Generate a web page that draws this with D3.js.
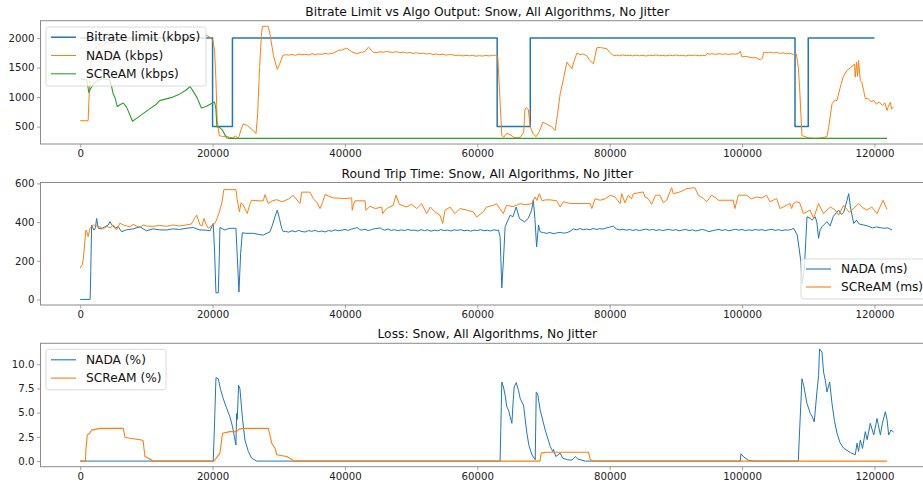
<!DOCTYPE html>
<html><head><meta charset="utf-8">
<script src="https://cdn.jsdelivr.net/npm/d3@7"></script>
<style>body{margin:0;background:#fff}svg{display:block}text{font-family:"DejaVu Sans",sans-serif}</style>
</head><body>
<svg id="c" width="923" height="482"></svg>
<script>
// ---------- DATA ----------
const xTicks = [0, 20000, 40000, 60000, 80000, 100000, 120000];
const yTicksBitrate = [500, 1000, 1500, 2000];
const yTicksRtt = [0, 200, 400, 600];
const yTicksLoss = [0, 2.5, 5, 7.5, 10];

const titles = [
  "Bitrate Limit vs Algo Output: Snow, All Algorithms, No Jitter",
  "Round Trip Time: Snow, All Algorithms, No Jitter",
  "Loss: Snow, All Algorithms, No Jitter"
];

// bitrate limit (step after)
const bitrateLimit = [[0,2000],[20000,500],[23000,2000],[63000,500],[68000,2000],[108000,500],[110000,2000],[120000,2000]];

const screamKbps = [[0,1310],[500,1300],[1000,1290],[1200,1150],[1300,1080],[1600,1150],[2000,1220],[2500,1270],[3000,1300],[3500,1310],[4000,1300],[4500,1290],[4800,1150],[5000,1050],[5260,990],[5500,880],[5600,840],[6000,870],[6500,900],[7000,830],[7500,700],[7900,590],[8500,640],[9500,720],[10500,800],[11500,880],[12000,940],[13000,970],[14000,1000],[15000,1050],[16000,1120],[16600,1180],[17000,1110],[17600,1000],[18000,900],[18300,815],[19000,840],[19500,870],[20000,900],[20300,915],[20500,800],[20650,500],[21000,490],[21500,440],[22100,310],[22500,300],[121900,300]];

const nadaKbps = [[0,600],[1200,600],[1300,900],[1500,1400],[1700,1700],[2000,1800],[2500,1850],[3000,1900],[3500,1870],[4000,1950],[5000,1920],[6000,1980],[7000,1950],[8000,2000],[9000,1960],[10000,2010],[11000,1950],[12000,1990],[13000,2020],[14000,1960],[15000,2000],[16000,1940],[17000,1990],[18000,2030],[18500,1980],[19000,2050],[19500,2020],[19800,1990],[20000,1980],[20300,1800],[20500,1300],[20700,600],[21000,350],[21500,330],[22000,340],[22500,320],[23000,310],[23500,340],[23800,310],[24000,330],[24300,450],[24640,546],[25200,520],[26000,450],[26560,380],[26800,700],[27100,1500],[27400,2100],[27570,2200],[28400,2200],[28700,2050],[29200,1700],[29780,1470],[30100,1550],[30590,1700],[31000,1720],[31500,1712],[32000,1722],[32500,1708],[33000,1730],[33500,1718],[34000,1726],[34500,1715],[35000,1735],[35500,1722],[36000,1732],[36500,1726],[37000,1740],[37500,1730],[38250,1745],[39000,1790],[39600,1800],[40270,1830],[41000,1770],[41780,1735],[42500,1760],[43000,1770],[43540,1847],[44300,1762],[44800,1755],[45300,1768],[45800,1760],[46300,1775],[46800,1762],[47300,1758],[47800,1770],[48300,1752],[48800,1763],[49300,1748],[49800,1756],[50300,1742],[50800,1750],[51300,1738],[51800,1745],[52300,1730],[52800,1738],[53300,1722],[53800,1730],[54300,1718],[54800,1728],[55300,1712],[55800,1722],[56300,1715],[56800,1705],[57300,1712],[57800,1698],[58300,1708],[58800,1700],[59300,1706],[59800,1694],[60300,1702],[60800,1696],[61300,1705],[61800,1698],[62300,1706],[62800,1710],[63100,1680],[63400,1000],[63700,350],[64000,320],[64460,387],[65000,360],[65500,320],[65970,309],[66500,320],[67000,400],[67200,800],[67400,818],[67700,790],[68000,500],[68400,380],[68890,330],[69300,400],[69900,574],[70500,540],[71200,500],[71760,433],[72100,700],[72520,1056],[73000,1300],[73530,1593],[74280,1480],[74600,1600],[75040,1745],[75500,1720],[76000,1730],[76550,1700],[77000,1620],[77550,1565],[77800,1700],[78060,1837],[78600,1840],[79570,1820],[80000,1760],[80570,1700],[81000,1712],[81500,1700],[82000,1715],[82500,1702],[83000,1710],[83500,1698],[84000,1712],[84500,1700],[85000,1708],[85500,1696],[86000,1710],[86500,1702],[87000,1715],[87500,1700],[88000,1708],[88500,1698],[89000,1712],[89500,1702],[90000,1714],[90500,1700],[91000,1708],[91500,1697],[92000,1711],[92500,1703],[93000,1713],[93500,1700],[94000,1708],[94500,1702],[94700,1740],[95000,1728],[95500,1735],[96000,1724],[96500,1736],[97000,1726],[97500,1733],[98000,1724],[98500,1732],[99000,1728],[99500,1740],[99730,1775],[99980,1680],[100500,1692],[101000,1680],[101500,1664],[102000,1672],[102750,1633],[103100,1660],[103260,1762],[103700,1755],[104200,1762],[104700,1748],[105200,1756],[105700,1742],[106200,1750],[106700,1736],[107200,1744],[107800,1720],[108200,1730],[108500,1500],[108690,1168],[109050,348],[109500,330],[110000,310],[111000,300],[112000,310],[112830,330],[113100,500],[113590,886],[114000,950],[114350,942],[114800,1150],[115300,1350],[115860,1451],[116400,1500],[117000,1560],[117100,1338],[117300,1593],[117450,1350],[117600,1620],[117870,1282],[118100,1250],[118370,1112],[118620,971],[119000,980],[119500,920],[119880,942],[120300,880],[120700,920],[121200,860],[121600,900],[121900,773],[122100,840],[122400,913],[122600,800],[122900,828]];

const nadaRtt = [[0,0],[1500,0],[1600,150],[1720,385],[2070,359],[2300,370],[2480,419],[2720,368],[3200,365],[3700,375],[4230,385],[4490,402],[4800,385],[5250,368],[5750,376],[6260,350],[7000,360],[8000,365],[9030,376],[10000,355],[11000,365],[12000,360],[13060,359],[14000,365],[15000,362],[16000,368],[17080,372],[18000,360],[19000,358],[19610,355],[20100,393],[20300,250],[20510,34],[20860,34],[21000,200],[21110,372],[21500,365],[21860,359],[22300,365],[22620,368],[23530,368],[23730,222],[23980,38],[24240,239],[24490,345],[25000,342],[26150,342],[27000,336],[27660,333],[28670,350],[29000,380],[29420,427],[29770,462],[30100,420],[30430,368],[30690,350],[31000,352],[31500,348],[32000,355],[32500,350],[33000,357],[33500,351],[34000,349],[34500,356],[35000,352],[35500,358],[36000,350],[36500,354],[37000,349],[37500,356],[38000,353],[38500,360],[39000,355],[39500,358],[40000,362],[40500,357],[41000,364],[41500,368],[41850,372],[42200,362],[42500,358],[43000,363],[43500,356],[44000,361],[44500,366],[45000,368],[45300,370],[45700,362],[46000,358],[46500,364],[47000,357],[47500,361],[48000,355],[48500,360],[49000,356],[49500,362],[50000,357],[50500,359],[51000,354],[51500,361],[52000,356],[52500,360],[53000,353],[53500,358],[54000,355],[54500,361],[55000,356],[55500,359],[56000,354],[56500,360],[57000,357],[57500,361],[58000,355],[58500,358],[59000,353],[59500,359],[60000,356],[60500,361],[61000,355],[61500,358],[62000,354],[62500,360],[63000,357],[63190,359],[63440,325],[63700,60],[63950,205],[64200,376],[64970,436],[65370,427],[65870,478],[66370,418],[67130,401],[67700,420],[68200,461],[68460,513],[68700,420],[68960,272],[69250,385],[69500,350],[70000,345],[70500,342],[71000,346],[71500,340],[72000,344],[72500,347],[73000,343],[73530,345],[74000,352],[74540,365],[75000,360],[75500,366],[76000,361],[76500,364],[77000,360],[77500,367],[78000,362],[78500,366],[79000,364],[79500,370],[80000,374],[80540,379],[81000,365],[81500,360],[82000,363],[82500,358],[83000,362],[83500,357],[84000,361],[84500,356],[85000,360],[85500,364],[86000,358],[86500,362],[87000,357],[87500,361],[88000,356],[88500,360],[89000,363],[89500,357],[90000,361],[90500,355],[91000,359],[91500,362],[92000,356],[92500,360],[93000,354],[93500,358],[94000,362],[94500,357],[95000,351],[95500,355],[96000,359],[96500,362],[97000,357],[97500,361],[98000,355],[98500,359],[99000,363],[99500,358],[100000,362],[100500,356],[101000,360],[101500,357],[102000,362],[102500,358],[103000,361],[103500,356],[104000,360],[104500,363],[105000,357],[105500,361],[106000,356],[106500,360],[107000,358],[107500,363],[107800,368],[108340,333],[108850,205],[109100,82],[109400,150],[109810,427],[110300,420],[110560,410],[111060,427],[111300,400],[111560,316],[111800,360],[112070,376],[112830,402],[113300,380],[113800,430],[114590,462],[115000,440],[115350,450],[115860,513],[116110,547],[116370,478],[116870,393],[117300,410],[117700,390],[118370,385],[119000,380],[119700,370],[120300,375],[121420,368],[122000,370],[122680,359]];

const screamRtt = [[0,162],[300,180],[460,205],[700,300],[860,359],[1000,350],[1200,325],[1500,370],[2000,385],[2500,380],[3000,375],[3500,365],[4000,378],[4500,370],[5000,385],[5500,360],[6000,395],[6500,385],[7000,380],[7500,375],[8000,388],[8500,380],[9000,372],[9500,385],[10000,380],[11000,378],[12000,383],[13000,378],[14000,385],[15000,380],[16000,385],[16800,390],[17300,420],[17600,436],[18100,385],[18400,380],[18700,419],[19000,390],[19350,368],[19800,380],[20360,393],[20700,420],[21100,462],[21400,500],[21700,568],[23540,568],[23700,520],[24050,453],[24300,500],[24640,488],[25240,444],[25600,490],[25900,513],[27000,510],[27660,510],[27920,542],[28420,496],[29000,510],[29690,516],[30500,505],[31500,520],[32200,538],[33210,496],[33460,555],[34720,555],[35220,521],[35800,500],[36230,470],[36600,500],[36990,542],[38250,525],[40000,522],[41020,525],[41100,461],[41260,487],[41520,510],[43040,510],[43180,461],[43780,482],[44600,470],[45550,478],[45700,444],[46300,470],[47300,487],[47710,539],[48210,492],[49330,478],[50080,492],[50840,470],[51590,495],[52350,444],[52900,478],[53600,453],[54360,435],[54770,393],[55110,461],[55870,478],[56620,444],[57380,470],[58400,462],[59390,453],[59900,426],[60400,440],[60900,453],[61410,478],[62420,487],[62920,495],[63400,470],[63920,444],[64430,487],[65400,480],[66440,495],[67300,490],[68210,495],[68710,530],[69000,512],[69360,547],[69800,510],[70300,515],[71000,515],[72000,510],[72520,478],[73000,505],[74030,496],[77050,496],[77300,470],[77800,521],[78550,513],[79300,520],[80070,539],[80800,530],[81570,496],[81820,547],[82300,500],[82810,539],[83300,520],[83570,547],[85080,556],[85330,530],[85800,522],[86340,492],[86900,539],[87600,539],[88100,500],[88610,513],[89360,578],[89600,547],[90620,556],[91620,573],[92880,578],[93380,539],[94140,522],[94650,505],[95400,539],[96160,522],[96410,513],[98670,513],[98920,470],[99430,539],[100690,539],[101400,520],[102200,530],[103000,525],[103710,539],[104210,505],[105230,522],[105730,470],[106740,487],[107240,496],[107490,470],[107740,496],[108200,505],[108700,500],[109280,444],[110290,462],[110800,419],[111560,496],[112300,444],[113330,478],[114000,465],[114590,436],[115350,487],[116200,450],[117620,496],[118200,475],[118880,462],[119600,478],[120390,444],[121300,513],[121900,465]];

const nadaLoss = [[0,0],[20100,0],[20300,4],[20510,8.6],[20860,8.5],[21200,7.4],[21610,6.45],[22100,5.5],[22620,4.57],[23000,3.6],[23300,2.5],[23530,1.67],[23630,4.92],[23730,4.3],[23930,7.82],[24130,7.48],[24530,4.3],[24890,2.18],[25400,0.99],[25900,0.3],[26660,0],[63440,0],[63550,3.38],[63700,8.16],[63950,7.65],[64200,6.8],[64460,5.6],[64720,5.26],[64950,4.6],[65220,3.9],[65400,6.0],[65570,7.65],[65880,8.1],[66220,7.3],[66480,6.45],[66980,5.77],[67200,4.5],[67490,2.87],[67800,1.6],[68250,0.65],[68750,0.14],[68900,7.13],[69100,7.0],[69500,5.26],[70260,3.2],[71020,1.5],[71400,0.99],[71500,1.2],[71860,0.47],[72520,0.82],[72900,0.3],[73600,0.14],[74300,0.1],[74790,0.47],[75200,0.2],[76300,0],[99730,0],[99830,0.75],[100300,0.4],[101000,0.07],[101800,0],[108500,0],[108600,1.67],[109050,8.5],[109300,7.82],[109810,5.94],[110310,4.92],[110600,4.57],[110910,4.06],[111310,7.13],[111560,8.84],[111710,11.58],[112070,11.24],[112320,9.18],[112580,8.33],[112830,7.13],[113230,8.16],[113590,5.94],[113950,4.2],[114350,2.87],[114800,1.9],[115350,1.33],[116360,0.89],[117100,0.65],[117370,1.84],[117600,1.0],[117870,2.18],[118200,1.3],[118620,3.04],[118900,2.2],[119370,3.9],[119900,2.7],[120390,4.4],[120900,2.7],[121200,3.9],[121650,5.1],[121900,4.3],[122150,2.7],[122500,3.2],[122900,3.0]];

const screamLoss = [[0,0],[800,0],[860,1.16],[1060,2.7],[1460,2.87],[1720,3.2],[2980,3.38],[6500,3.38],[6760,2.46],[7500,2.35],[8500,2.25],[9280,2.18],[9500,2.1],[9780,0.47],[10280,0.3],[11040,0],[20200,0],[20360,0.14],[21110,0.82],[21500,2.87],[22620,3.04],[23630,3.04],[24000,3.3],[24640,3.38],[28420,3.38],[28780,2.35],[28940,1.84],[29440,1.33],[29690,0.65],[31200,0.47],[31960,0.2],[32210,0],[69460,0],[69650,0.82],[70400,0.92],[76800,0.92],[77060,0.14],[77550,0],[121900,0]];

const legendBitrate = ["Bitrate limit (kbps)", "NADA (kbps)", "SCReAM (kbps)"];
const legendRtt = ["NADA (ms)", "SCReAM (ms)"];
const legendLoss = ["NADA (%)", "SCReAM (%)"];

// ---------- DRAW ----------
const C = {blue:"#1f77b4", orange:"#ff7f0e", green:"#2ca02c"};
const svg = d3.select("#c");
const LEFT = 40.5, RIGHT = 934;
const x = d3.scaleLinear().domain([-6000, 129000]).range([LEFT, RIGHT]);
const spine = "#8a8a8a";

function panel(opt) {
  const y = d3.scaleLinear().domain(opt.ydom).range([opt.bottom, opt.top]);
  const g = svg.append("g");
  const id = "clip" + opt.i;
  svg.append("clipPath").attr("id", id).append("rect")
    .attr("x", LEFT).attr("y", opt.top).attr("width", RIGHT - LEFT).attr("height", opt.bottom - opt.top);
  const plot = g.append("g").attr("clip-path", `url(#${id})`);
  opt.series.forEach(s => {
    const line = d3.line().x(d => x(d[0])).y(d => y(d[1]));
    if (s.step) line.curve(d3.curveStepAfter);
    plot.append("path").datum(s.data).attr("d", line)
      .attr("fill", "none").attr("stroke", s.color).attr("stroke-width", s.w || 1.1)
      .attr("stroke-linejoin", "round");
  });
  const xa = g.append("g").attr("transform", `translate(0,${opt.bottom})`)
    .call(d3.axisBottom(x).tickValues(xTicks).tickFormat(d3.format("d")).tickSize(3.5).tickPadding(2.5).tickSizeOuter(0));
  const ya = g.append("g").attr("transform", `translate(${LEFT},0)`)
    .call(d3.axisLeft(y).tickValues(opt.yticks).tickFormat(opt.yfmt).tickSize(3.5).tickPadding(2.5).tickSizeOuter(0));
  [xa, ya].forEach(a => {
    a.select(".domain").remove();
    a.selectAll("line").attr("stroke", spine).attr("stroke-width", 0.8);
    a.selectAll("text").attr("font-size", 10.2).attr("fill", "#222").attr("font-family", "DejaVu Sans");
  });
  g.append("rect").attr("x", LEFT).attr("y", opt.top).attr("width", RIGHT - LEFT).attr("height", opt.bottom - opt.top)
    .attr("fill", "none").attr("stroke", spine).attr("stroke-width", 1);
  g.append("text").attr("x", (LEFT + RIGHT) / 2).attr("y", opt.top - 5).attr("text-anchor", "middle")
    .attr("font-size", 12.3).attr("fill", "#111").text(opt.title);
  const L = opt.legend;
  const lg = g.append("g");
  lg.append("rect").attr("x", L.x).attr("y", L.y).attr("width", L.w).attr("height", L.h).attr("rx", 2.5)
    .attr("fill", "#fff").attr("fill-opacity", 0.8).attr("stroke", "#d0d0d0").attr("stroke-width", 0.8);
  L.labels.forEach((t, k) => {
    const cy = L.y + L.first + k * L.step;
    lg.append("line").attr("x1", L.x + 5).attr("x2", L.x + 30).attr("y1", cy).attr("y2", cy)
      .attr("stroke", L.colors[k]).attr("stroke-width", L.widths ? L.widths[k] : 1.1);
    lg.append("text").attr("x", L.x + 40).attr("y", cy).attr("dy", "0.35em")
      .attr("font-size", 12.2).attr("fill", "#111").text(t);
  });
}

panel({
  i: 1, top: 20.7, bottom: 144, ydom: [205, 2295], yticks: yTicksBitrate, yfmt: d3.format("d"),
  title: titles[0],
  series: [
    {data: bitrateLimit, color: C.blue, step: true, w: 1.5},
    {data: nadaKbps, color: C.orange, w: 1},
    {data: screamKbps, color: C.green, w: 1.1}
  ],
  legend: {x: 46, y: 27, w: 160, h: 59, first: 10.2, step: 18.3, labels: legendBitrate,
           colors: [C.blue, C.orange, C.green], widths: [1.5, 1, 1.1]}
});

panel({
  i: 2, top: 182.5, bottom: 305, ydom: [-28.8, 604.8], yticks: yTicksRtt, yfmt: d3.format("d"),
  title: titles[1],
  series: [
    {data: nadaRtt, color: C.blue, w: 1},
    {data: screamRtt, color: C.orange, w: 1}
  ],
  legend: {x: 801, y: 259, w: 126, h: 40, first: 10, step: 18, labels: legendRtt, colors: [C.blue, C.orange]}
});

panel({
  i: 3, top: 343.3, bottom: 466.7, ydom: [-0.579, 12.159], yticks: yTicksLoss, yfmt: d3.format(".1f"),
  title: titles[2],
  series: [
    {data: nadaLoss, color: C.blue, w: 1},
    {data: screamLoss, color: C.orange, w: 1.1}
  ],
  legend: {x: 46, y: 349.3, w: 120, h: 40.5, first: 10.5, step: 18.3, labels: legendLoss, colors: [C.blue, C.orange]}
});
</script>
</body></html>
